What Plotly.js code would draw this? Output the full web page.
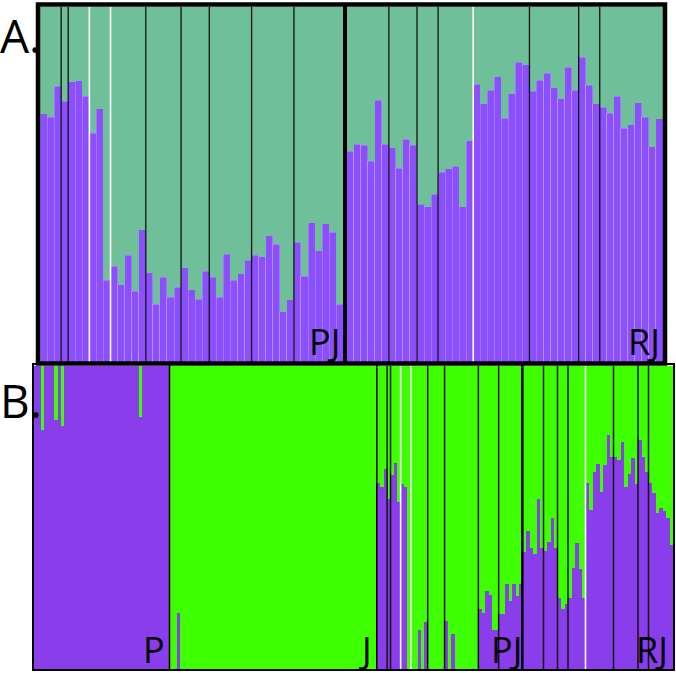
<!DOCTYPE html>
<html>
<head>
<meta charset="utf-8">
<script src="https://cdn.plot.ly/plotly-3.0.1.min.js"></script>
<style>body{margin:0;background:#fff}#plot{width:676px;height:673px}</style>
</head>
<body>
<div id="plot"></div>
<script>
// share of the purple cluster for each individual, in plot order
var pjA = [0.699,0.690,0.777,0.735,0.789,0.792,0.749,0.645,0.713,0.231,
           0.270,0.217,0.301,0.200,0.372,0.251,0.163,0.239,0.183,0.211,
           0.265,0.203,0.177,0.256,0.239,0.183,0.304,0.231,0.248,0.287,
           0.301,0.296,0.355,0.332,0.141,0.175,0.338,0.242,0.392,0.313,
           0.389,0.366,0.163];
var rjA = [0.594,0.614,0.611,0.566,0.738,0.614, 0.603,0.546,0.628,0.611,
           0.445,0.437,0.473, 0.535,0.544,0.552,0.437,0.623,
           0.783,0.727,0.766,0.803,0.687,0.755,0.845,0.837,
           0.763,0.794,0.814,0.772,0.741,0.831,0.766,
           0.859,0.780,0.727,
           0.718,0.701,0.749,0.659,0.668,0.730,0.690,0.606,0.685];
var pB = [1,1,0.79,1,1,1,0.822,1,0.803,1,
          1,1,1,1,1,1,1,1,1,1,
          1,1,1,1,1,1,1,1,1,1,
          1,0.832,1,1,1,1,1,1,1,1];
var jB = [0,0,0.185,0,0,0,0,0,0,0,
          0,0,0,0,0,0,0,0,0,0,
          0,0,0,0,0,0,0,0,0,0,
          0,0,0,0,0,0,0,0,0,0,
          0,0,0,0,0,0,0,0,0,0,
          0,0,0,0,0,0,0,0,0,0,0];
var pjB = [0.615,0.60,0.66, 0.56, 0.64,0.68,0.55, 0.61,0.60,0,
           0,0,0.13,0,0.155, 0,0,0,0,0,
           0.16,0,0.115,0,0,0,0,0,0,0,
           0.197,0.185,0.257,0.245,0.13,0.128,
           0.18,0.18,0.28,0.225,0.28,0.24,0.28];
var rjB = [0.385,0.455,0.40,0.378,0.56,0.40, 0.39,0.42,0.50,0.40,
           0.234,0.197,0.215, 0.235,0.335,0.417,0.33,0.234,
           0.613,0.525,0.65,0.675,0.585,0.673,0.772,0.70,
           0.70,0.69,0.75,0.60,0.645,0.695,0.61,
           0.755,0.70,0.65,
           0.613,0.58,0.514,0.53,0.523,0.50,0.41];

// sampling-site breaks: number of individuals before each line
var pjBlackA = [3, 4, 15, 20, 24, 30, 36];
var pjWhiteA = [7, 10];
var rjBlackA = [6, 10, 13, 26, 33, 36];
var rjWhiteA = [18];
var pjBlackB = [3, 4, 15, 20, 30, 36];
var pjWhiteB = [7, 10];
var rjBlackB = [6, 10, 13, 26, 33, 36];
var rjWhiteB = [18];

var W = 676, H = 673;
function px(x) { return x / W; }
function py(y) { return 1 - y / H; }

var purpleA = '#8b4ffe', greenA = '#70bf9b';
var purpleB = '#8a3deb', greenB = '#3dff00';

var data = [];
function addGroup(vals, xa, ya, purple, green, edge) {
  var idx = vals.map(function (v, i) { return i; });
  data.push({type: 'bar', x: idx, y: vals, xaxis: xa, yaxis: ya,
    marker: {color: purple, line: {width: edge ? 0.7 : 0, color: 'rgba(255,255,255,0.3)'}},
    hoverinfo: 'skip'});
  data.push({type: 'bar', x: idx, y: vals.map(function (v) { return 1 - v; }), xaxis: xa, yaxis: ya,
    marker: {color: green, line: {width: 0}}, hoverinfo: 'skip'});
}
addGroup(pjA, 'x', 'y', purpleA, greenA, true);
addGroup(rjA, 'x2', 'y', purpleA, greenA, true);
addGroup(pB, 'x3', 'y2', purpleB, greenB, false);
addGroup(jB, 'x4', 'y2', purpleB, greenB, false);
addGroup(pjB, 'x5', 'y2', purpleB, greenB, false);
addGroup(rjB, 'x6', 'y2', purpleB, greenB, false);

function axis(d0, d1, n, anchor) {
  return {domain: [px(d0), px(d1)], range: [-0.5, n - 0.5], anchor: anchor,
          visible: false, fixedrange: true};
}

var shapes = [];
function seps(list, xref, yref, color, width) {
  list.forEach(function (k) {
    shapes.push({type: 'line', xref: xref, yref: yref + ' domain',
      x0: k - 0.5, x1: k - 0.5, y0: 0, y1: 1, line: {color: color, width: width}});
  });
}
seps(pjBlackA, 'x', 'y', '#111', 1.3);
seps(pjWhiteA, 'x', 'y', '#fff', 1.6);
seps(rjBlackA, 'x2', 'y', '#111', 1.3);
seps(rjWhiteA, 'x2', 'y', '#fff', 1.6);
seps(pjBlackB, 'x5', 'y2', '#111', 1.5);
seps(pjWhiteB, 'x5', 'y2', '#fff', 1.6);
seps(rjBlackB, 'x6', 'y2', '#111', 1.5);
seps(rjWhiteB, 'x6', 'y2', '#fff', 1.6);

// frames and group dividers
shapes.push({type: 'rect', xref: 'paper', yref: 'paper', x0: px(38), x1: px(665), y0: py(363.5), y1: py(4.5),
  line: {color: '#000', width: 4.5}});
shapes.push({type: 'line', xref: 'paper', yref: 'paper', x0: px(345), x1: px(345), y0: py(363.5), y1: py(4.5),
  line: {color: '#000', width: 4}});
shapes.push({type: 'rect', xref: 'paper', yref: 'paper', x0: px(33), x1: px(674), y0: py(670), y1: py(364),
  line: {color: '#000', width: 2}});
[[169.5, 1.5], [376.8, 1.6], [522.3, 2.6]].forEach(function (d) {
  shapes.push({type: 'line', xref: 'paper', yref: 'paper', x0: px(d[0]), x1: px(d[0]), y0: py(670), y1: py(365),
    line: {color: '#000', width: d[1]}});
});

function label(t, x, y, size, xa, ya) {
  return {text: t, xref: 'paper', yref: 'paper', x: px(x), y: py(y), xanchor: xa, yanchor: ya,
    showarrow: false, font: {family: 'Open Sans', size: size, color: '#000'}};
}
var annotations = [
  label('A.', -2, 2, 46, 'left', 'top'),
  label('B.', -2, 367, 46, 'left', 'top'),
  label('PJ', 342, 368, 36, 'right', 'bottom'),
  label('RJ', 662, 368, 36, 'right', 'bottom'),
  label('P', 167, 676, 36, 'right', 'bottom'),
  label('J', 374, 676, 36, 'right', 'bottom'),
  label('PJ', 524, 676, 36, 'right', 'bottom'),
  label('RJ', 670, 676, 36, 'right', 'bottom')
];

var layout = {
  width: W, height: H,
  margin: {l: 0, r: 0, t: 0, b: 0},
  paper_bgcolor: '#fff', plot_bgcolor: 'rgba(0,0,0,0)',
  barmode: 'stack', bargap: 0, showlegend: false,
  xaxis: axis(40, 343.3, pjA.length, 'y'),
  xaxis2: axis(346.7, 663, rjA.length, 'y'),
  xaxis3: axis(34, 169.5, pB.length, 'y2'),
  xaxis4: axis(170, 376.8, jB.length, 'y2'),
  xaxis5: axis(377, 522.3, pjB.length, 'y2'),
  xaxis6: axis(522.5, 673, rjB.length, 'y2'),
  yaxis: {domain: [py(362), py(7)], range: [0, 1], anchor: 'x', visible: false, fixedrange: true},
  yaxis2: {domain: [py(669), py(366)], range: [0, 1], anchor: 'x3', visible: false, fixedrange: true},
  shapes: shapes,
  annotations: annotations
};

Plotly.newPlot('plot', data, layout, {staticPlot: true, displayModeBar: false});
</script>
</body>
</html>
